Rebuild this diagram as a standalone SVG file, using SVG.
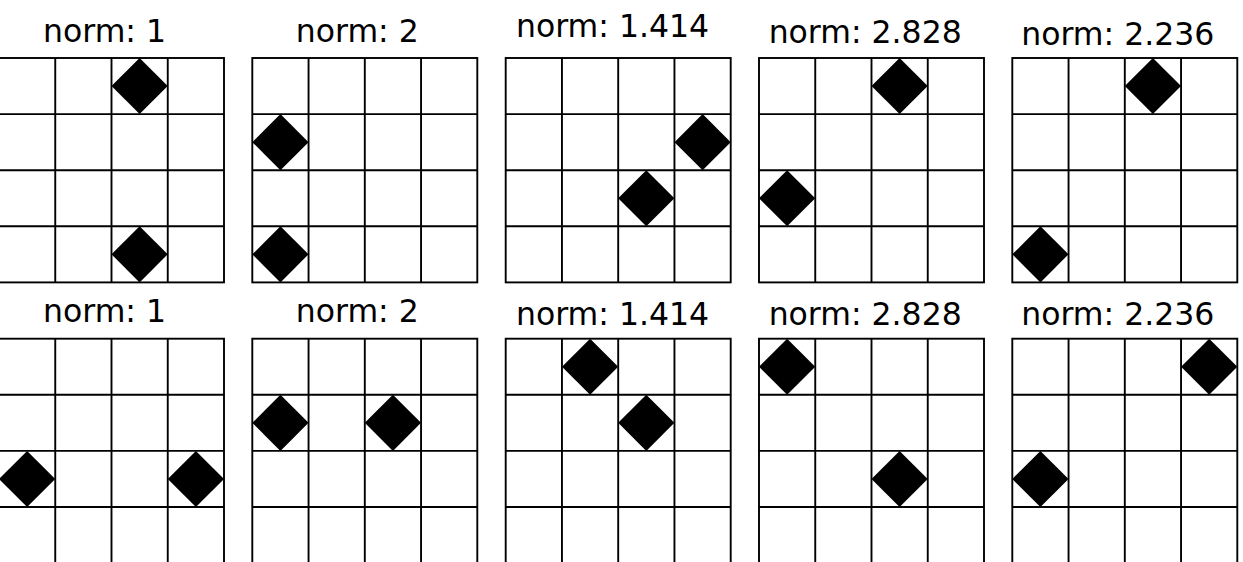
<svg xmlns="http://www.w3.org/2000/svg" xmlns:xlink="http://www.w3.org/1999/xlink" width="1243" height="562" viewBox="0 0 1243 562">
<style>
.g{fill:#fff;stroke:#000;stroke-width:1.9}
.l{stroke:#000;stroke-width:1.9}
.d{fill:#000}
.t{font-family:"DejaVu Sans",sans-serif;font-size:31.5px;fill:#000;text-anchor:middle}
</style>
<defs>
<g id="grid">
<rect class="g" x="0" y="0" width="225" height="224.4"/>
<line class="l" x1="56.25" y1="0" x2="56.25" y2="224.4"/>
<line class="l" x1="112.5" y1="0" x2="112.5" y2="224.4"/>
<line class="l" x1="168.75" y1="0" x2="168.75" y2="224.4"/>
<line class="l" x1="0" y1="56.1" x2="225" y2="56.1"/>
<line class="l" x1="0" y1="112.2" x2="225" y2="112.2"/>
<line class="l" x1="0" y1="168.3" x2="225" y2="168.3"/>
</g>
<path id="dm" class="d" d="M0,-28.05 L28.12,0 L0,28.05 L-28.12,0Z"/>
</defs>
<rect width="1243" height="562" fill="#fff"/>
<g id="p1" transform="translate(-1,58)">
<use xlink:href="#grid"/>
<use xlink:href="#dm" x="140.6" y="28.05"/>
<use xlink:href="#dm" x="140.6" y="196.35"/>
<text class="t" x="105.5" y="-16.3">norm: 1</text>
</g>
<g id="p2" transform="translate(252.3,58)">
<use xlink:href="#grid"/>
<use xlink:href="#dm" x="28.12" y="84.15"/>
<use xlink:href="#dm" x="28.12" y="196.35"/>
<text class="t" x="105" y="-16.3">norm: 2</text>
</g>
<g id="p3" transform="translate(505.7,58)">
<use xlink:href="#grid"/>
<use xlink:href="#dm" x="196.9" y="84.15"/>
<use xlink:href="#dm" x="140.6" y="140.25"/>
<text class="t" x="106.8" y="-20.7">norm: 1.414</text>
</g>
<g id="p4" transform="translate(759,58)">
<use xlink:href="#grid"/>
<use xlink:href="#dm" x="140.6" y="28.05"/>
<use xlink:href="#dm" x="28.12" y="140.25"/>
<text class="t" x="106.2" y="-14.7">norm: 2.828</text>
</g>
<g id="p5" transform="translate(1012.3,58)">
<use xlink:href="#grid"/>
<use xlink:href="#dm" x="140.6" y="28.05"/>
<use xlink:href="#dm" x="28.12" y="196.35"/>
<text class="t" x="105.5" y="-13.5">norm: 2.236</text>
</g>
<g id="p6" transform="translate(-1,338.7)">
<use xlink:href="#grid"/>
<use xlink:href="#dm" x="28.12" y="140.25"/>
<use xlink:href="#dm" x="196.9" y="140.25"/>
<text class="t" x="105.5" y="-17">norm: 1</text>
</g>
<g id="p7" transform="translate(252.3,338.7)">
<use xlink:href="#grid"/>
<use xlink:href="#dm" x="28.12" y="84.15"/>
<use xlink:href="#dm" x="140.6" y="84.15"/>
<text class="t" x="105" y="-17">norm: 2</text>
</g>
<g id="p8" transform="translate(505.7,338.7)">
<use xlink:href="#grid"/>
<use xlink:href="#dm" x="84.4" y="28.05"/>
<use xlink:href="#dm" x="140.6" y="84.15"/>
<text class="t" x="106.8" y="-13.7">norm: 1.414</text>
</g>
<g id="p9" transform="translate(759,338.7)">
<use xlink:href="#grid"/>
<use xlink:href="#dm" x="28.12" y="28.05"/>
<use xlink:href="#dm" x="140.6" y="140.25"/>
<text class="t" x="106.2" y="-13.7">norm: 2.828</text>
</g>
<g id="p10" transform="translate(1012.3,338.7)">
<use xlink:href="#grid"/>
<use xlink:href="#dm" x="196.9" y="28.05"/>
<use xlink:href="#dm" x="28.12" y="140.25"/>
<text class="t" x="105.5" y="-13.7">norm: 2.236</text>
</g>
</svg>
